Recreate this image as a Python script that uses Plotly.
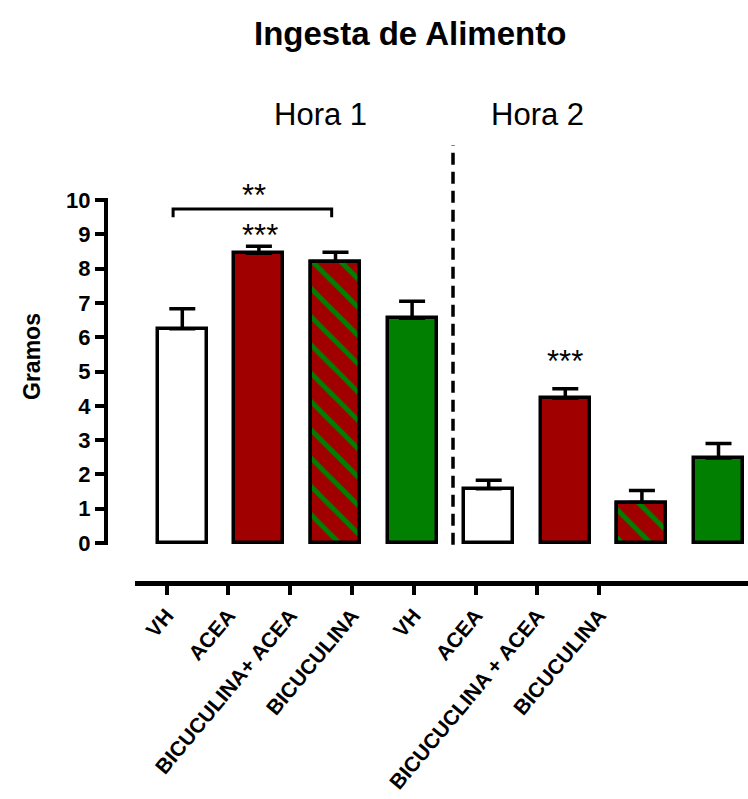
import plotly.graph_objects as go

# ---- data ----
groups = ["VH", "ACEA", "BICUCULINA+ ACEA", "BICUCULINA",
          "VH", "ACEA", "BICUCUCLINA + ACEA", "BICUCULINA"]
means = [6.25, 8.45, 8.18, 6.55, 1.58, 4.22, 1.18, 2.48]
sem = [0.58, 0.2, 0.3, 0.5, 0.25, 0.28, 0.35, 0.42]
fill_colors = ["white", "#a00000", "#a00000", "#007f00",
               "white", "#a00000", "#a00000", "#007f00"]
hatched = [False, False, True, False, False, False, True, False]
y_ticks = list(range(0, 11))
hour_labels = ["Hora 1", "Hora 2"]

RED = "#a00000"
GREEN = "#007f00"
FONT = "Liberation Sans, Arial, sans-serif"

pos = list(range(len(groups)))

# plot area (page px): x 106..748, y 140..581
def px(xp):
    return (xp - 106) / 642.0

def py(yp):
    return (581 - yp) / 441.0

BAR_W = 0.64
fig = go.Figure()
fig.add_trace(go.Bar(
    x=pos, y=means, width=BAR_W,
    marker=dict(color=fill_colors, line=dict(color="black", width=3.5)),
    error_y=dict(type="data", symmetric=False, array=sem,
                 arrayminus=[0] * len(sem),
                 color="black", thickness=3.5, width=13),
    showlegend=False, hoverinfo="skip",
))

# hatched bars (red with green diagonal stripes) drawn on top
h_idx = [i for i, h in enumerate(hatched) if h]
fig.add_trace(go.Bar(
    x=[pos[i] for i in h_idx], y=[means[i] for i in h_idx], width=BAR_W,
    marker=dict(
        color=RED,
        line=dict(color="black", width=3.5),
        pattern=dict(shape="\\", fgcolor=GREEN, bgcolor=RED, fgopacity=1,
                     size=20, solidity=0.25, fillmode="replace"),
    ),
    showlegend=False, hoverinfo="skip",
))

# dummy trace for the bottom category axis
fig.add_trace(go.Scatter(x=pos, y=[None] * len(pos), xaxis="x2", yaxis="y",
                         mode="markers", showlegend=False, hoverinfo="skip"))

shapes = []
# y axis line 0..10
shapes.append(dict(type="line", xref="paper", yref="y", x0=0, x1=0,
                   y0=-0.06, y1=10.06, line=dict(color="black", width=4)))
# dashed separator
shapes.append(dict(type="line", xref="x", yref="y", x0=3.534, x1=3.534,
                   y0=-0.05, y1=11.6, line=dict(color="black", width=3.5, dash="12px,7px")))
# significance bracket
shapes.append(dict(type="path", xref="x", yref="y",
                   path="M -0.12,9.5 L -0.12,9.74 L 1.95,9.74 L 1.95,9.5",
                   line=dict(color="black", width=3)))

def ann(text, x, y, size, xref="paper", yref="paper", **kw):
    return dict(text=text, xref=xref, yref=yref, x=x, y=y, showarrow=False,
                xanchor="center", yanchor="middle",
                font=dict(family=FONT, size=size, color="black"), **kw)

annotations = [
    ann("<b>Ingesta de Alimento</b>", px(410), py(33), 33),
    ann(hour_labels[0], px(320), py(114), 31),
    ann(hour_labels[1], px(537), py(114), 31),
    ann("<b>Gramos</b>", px(32), py(357), 23, textangle=-90),
    ann("**", 0.94, 10.14, 31, xref="x", yref="y"),
    ann("***", 1.01, 8.98, 31, xref="x", yref="y"),
    ann("***", 5.0, 5.3, 31, xref="x", yref="y"),
]

fig.update_layout(
    width=748, height=799,
    margin=dict(l=106, r=0, t=140, b=218, autoexpand=False),
    paper_bgcolor="white", plot_bgcolor="rgba(0,0,0,0)",
    barmode="overlay", bargap=0,
    xaxis=dict(range=[-0.996, 7.385], showticklabels=False, ticks="",
               showgrid=False, zeroline=False, showline=False),
    xaxis2=dict(domain=[0.045, 1], anchor="y", range=[-0.513, 9.406],
                tickvals=pos, ticktext=groups, tickangle=-50,
                ticks="outside", ticklen=9, tickwidth=4, tickcolor="black",
                showline=True, linewidth=5, linecolor="black",
                showgrid=False, zeroline=False, automargin=False,
                tickfont=dict(family=FONT, size=21, color="black", weight="bold")),
    yaxis=dict(range=[-1.108, 11.75], tickvals=y_ticks,
               ticktext=[f"<b>{v}</b>" for v in y_ticks],
               ticks="outside", ticklen=10, tickwidth=4, tickcolor="black",
               showline=False, showgrid=False, zeroline=False, automargin=False,
               tickfont=dict(family=FONT, size=22, color="black")),
    shapes=shapes,
    annotations=annotations,
)

fig.write_html(
    "out.html",
    config={"displayModeBar": False},
    post_script="document.body.style.margin='0px';document.body.style.overflow='hidden';",
)
